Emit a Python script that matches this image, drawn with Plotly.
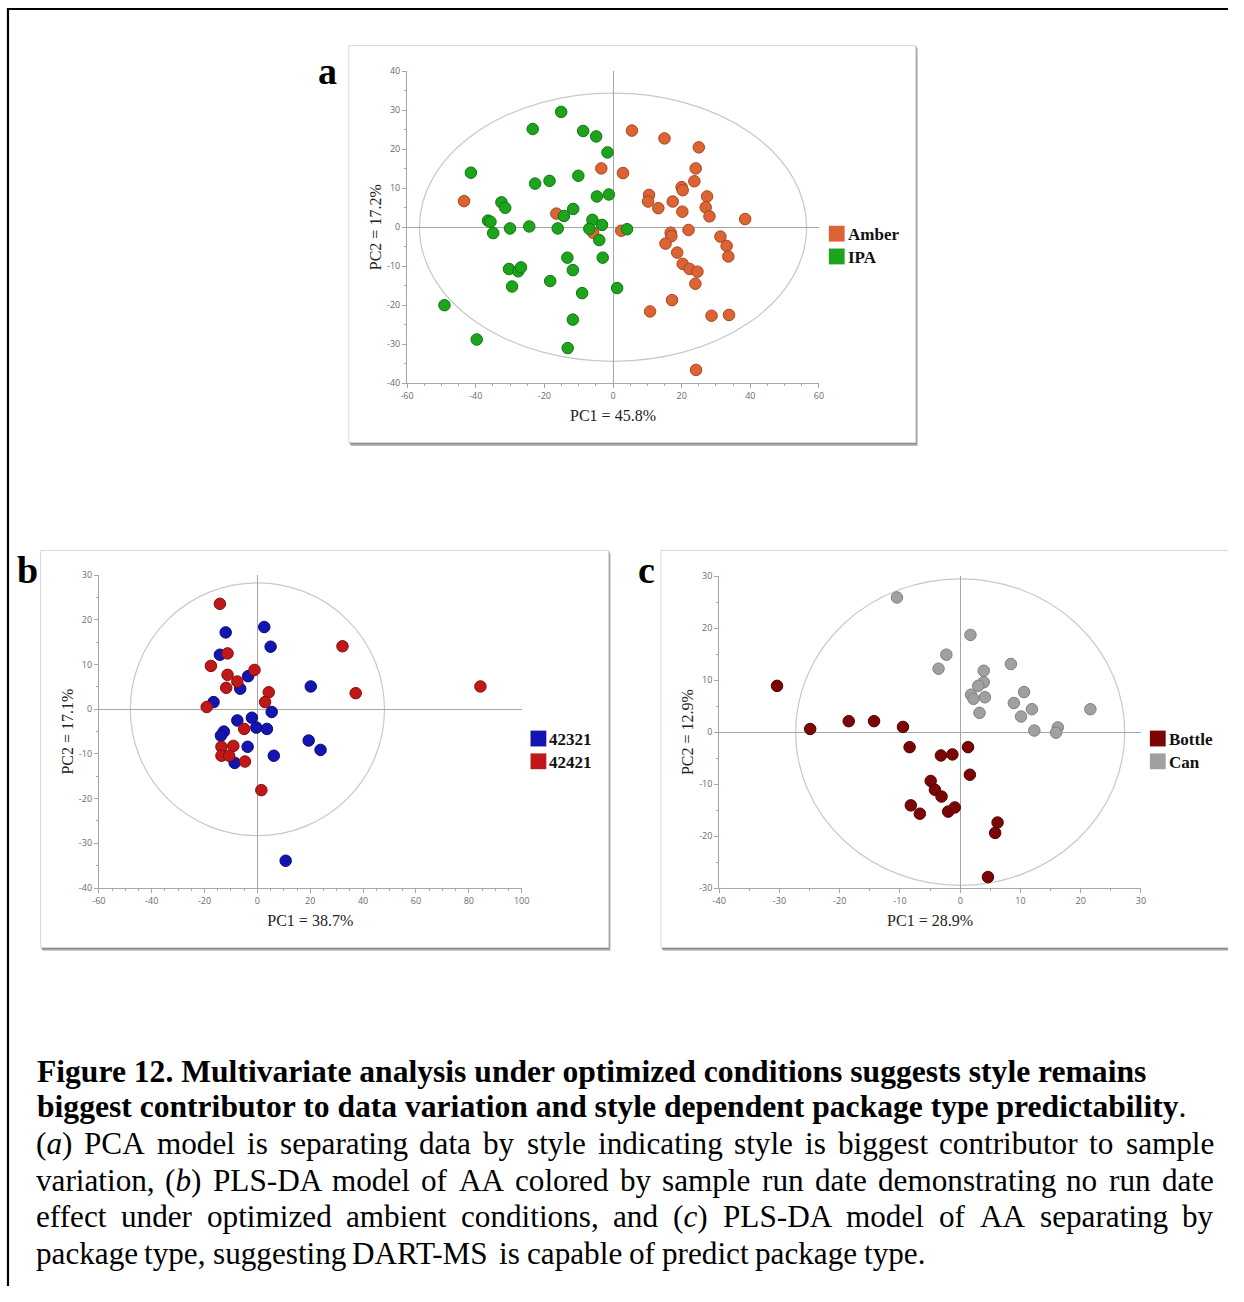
import plotly.graph_objects as go

# The page body keeps its default 8 px margin, so the figure is sized to fill the
# rest of the 1244 x 1302 window and page coordinates are shifted by that margin.
PAGE_W, PAGE_H = 1244, 1302
BODY_MARGIN = 8
W, H = PAGE_W - 2 * BODY_MARGIN, PAGE_H - 2 * BODY_MARGIN

# ---------------- data ----------------
# (a) PCA scores, PC1 = 45.8 %, PC2 = 17.2 %
a_groups = ["Amber", "IPA"]
amber_pc1 = [5.5, 15.0, 25.0, -3.4, 2.9, 24.1, 23.7, 20.0, 20.3, 10.5, 10.2, 13.2, 17.4,
             27.4, 27.0, 28.1, 20.2, -43.4, -16.5, -5.8, 2.4, 38.5, 22.0, 16.8, 17.0, 15.3,
             31.3, 33.1, 33.6, 18.7, 20.3, 22.3, 24.6, 24.0, 17.2, 10.8, 28.7, 33.8, 24.2]
amber_pc2 = [24.8, 22.8, 20.5, 15.1, 13.9, 15.1, 11.8, 10.3, 9.5, 8.3, 6.6, 4.9, 6.6,
             7.9, 5.1, 2.8, 4.0, 6.7, 3.5, -1.4, -0.9, 2.1, -0.7, -1.4, -2.3, -4.2,
             -2.4, -4.8, -7.5, -6.5, -9.4, -10.7, -11.4, -14.5, -18.7, -21.6, -22.7, -22.5, -36.6]
ipa_pc1 = [-15.1, -23.4, -8.7, -4.9, -1.6, -41.4, -10.1, -18.5, -22.7, -4.7, -1.2, -32.5,
           -31.4, -11.6, -14.3, -36.4, -35.7, -34.9, -30.0, -24.4, -16.1, -6.0, -6.9, -3.2,
           4.1, -4.0, -3.0, -13.3, -11.7, -30.3, -27.6, -26.8, -29.4, -18.3, 1.2, -9.0,
           -11.7, -49.1, -39.7, -13.2]
ipa_pc2 = [29.6, 25.2, 24.7, 23.3, 19.2, 14.0, 13.2, 11.9, 11.2, 7.9, 8.4, 6.4,
           5.0, 4.7, 2.9, 1.7, 1.4, -1.5, -0.3, 0.2, -0.3, 1.9, -0.4, 0.6,
           -0.5, -3.3, -7.8, -7.8, -11.0, -10.7, -11.3, -10.3, -15.2, -13.8, -15.6, -16.9,
           -23.7, -20.0, -28.8, -31.0]
a_ellipse = (56.4, 34.4)   # confidence ellipse semi-axes (PC1, PC2)

# (b) PLS-DA scores by run date, PC1 = 38.7 %, PC2 = 17.1 %
b_groups = ["42321", "42421"]
d42321_pc1 = [2.6, -12.0, 5.0, -14.2, -3.5, -6.5, 20.2, -16.6, 5.4, -7.6, -2.1, -0.4,
              3.6, -12.7, -13.8, -3.7, 19.4, 23.9, 6.2, -8.6, 10.7]
d42321_pc2 = [18.4, 17.2, 14.0, 12.2, 7.4, 4.6, 5.1, 1.6, -0.6, -2.5, -1.9, -4.1,
              -4.4, -5.0, -5.9, -8.4, -7.0, -9.1, -10.4, -12.0, -33.9]
d42421_pc1 = [-14.2, -11.3, -17.6, -1.1, -11.3, -7.6, -11.8, 4.3, 2.9, -19.2, 32.2, 37.2,
              84.4, -5.0, -13.6, -9.1, -13.6, -10.7, -4.7, 1.5]
d42421_pc2 = [23.6, 12.5, 9.7, 8.8, 7.7, 6.2, 4.8, 3.8, 1.6, 0.5, 14.1, 3.6,
              5.1, -4.4, -8.4, -8.2, -10.4, -10.4, -11.7, -18.1]
b_ellipse = (48.1, 28.3)

# (c) PLS-DA scores by package type, PC1 = 28.9 %, PC2 = 12.9 %
c_groups = ["Bottle", "Can"]
bottle_pc1 = [-30.4, -24.9, -18.5, -14.3, -9.5, -8.4, -3.2, -1.3, 1.3, 1.6, -4.9, -4.2,
              -3.1, -8.2, -6.7, -2.0, -0.9, 6.2, 5.8, 4.6]
bottle_pc2 = [8.9, 0.6, 2.1, 2.1, 1.0, -2.9, -4.5, -4.3, -2.9, -8.2, -9.4, -11.1,
              -12.4, -14.1, -15.7, -15.3, -14.5, -17.4, -19.4, -27.9]
can_pc1 = [-10.5, 1.7, -2.3, -3.6, 8.4, 3.9, 3.9, 3.0, 1.8, 2.2, 4.1, 10.6, 8.9, 11.9,
           10.1, 3.2, 21.6, 12.3, 16.2, 15.9]
can_pc2 = [25.9, 18.7, 14.9, 12.2, 13.1, 11.8, 9.6, 8.9, 7.2, 6.4, 6.7, 7.7, 5.6, 4.4,
           3.0, 3.7, 4.4, 0.3, 0.9, -0.1]
c_ellipse = (27.3, 29.5)

# axis ticks
a_xticks = [-60, -40, -20, 0, 20, 40, 60]
a_yticks = [-40, -30, -20, -10, 0, 10, 20, 30, 40]
b_xticks = [-60, -40, -20, 0, 20, 40, 60, 80, 100]
b_yticks = [-40, -30, -20, -10, 0, 10, 20, 30]
c_xticks = [-40, -30, -20, -10, 0, 10, 20, 30]
c_yticks = [-30, -20, -10, 0, 10, 20, 30]

axis_titles = {
    "a": ("PC1 = 45.8%", "PC2 = 17.2%"),
    "b": ("PC1 = 38.7%", "PC2 = 17.1%"),
    "c": ("PC1 = 28.9%", "PC2 = 12.9%"),
}

caption_bold = [
    "Figure 12. Multivariate analysis under optimized conditions suggests style remains",
    "biggest contributor to data variation and style dependent package type predictability",
]
caption_body = [
    "(_a_) PCA model is separating data by style indicating style is biggest contributor to sample",
    "variation, (_b_) PLS-DA model of AA colored by sample run date demonstrating no run date",
    "effect under optimized ambient conditions, and (_c_) PLS-DA model of AA separating by",
    "package type, suggesting DART-MS is capable of predict package type.",
]

# ---------------- styling ----------------
COLORS = {
    "Amber": ("#dc6434", "#a8451c"),
    "IPA": ("#1ca41c", "#0f760f"),
    "42321": ("#1414b0", "#0a0a78"),
    "42421": ("#c01818", "#860c0c"),
    "Bottle": ("#7c0606", "#520202"),
    "Can": ("#a0a0a0", "#808080"),
}
SERIF = "Liberation Serif, Times New Roman, serif"
SANS = "Open Sans, DejaVu Sans, sans-serif"


def px(x):
    """page pixel x -> paper fraction"""
    return (x - BODY_MARGIN) / W


def py(y):
    """page pixel y (from top) -> paper fraction"""
    return 1 - (y - BODY_MARGIN) / H


fig = go.Figure()

panels = [
    # key, axis suffix, pixel box of plot area (l, r, t, b), ranges, ticks, series
    ("a", "", (413, 830, 73, 388), (-60, 60), (-40, 40), a_xticks, a_yticks,
     [("Amber", amber_pc1, amber_pc2), ("IPA", ipa_pc1, ipa_pc2)], a_ellipse),
    ("b", "2", (101, 529, 582, 898), (-60, 100), (-40, 30), b_xticks, b_yticks,
     [("42321", d42321_pc1, d42321_pc2), ("42421", d42421_pc1, d42421_pc2)], b_ellipse),
    ("c", "3", (729, 1156, 583, 898), (-40, 30), (-30, 30), c_xticks, c_yticks,
     [("Bottle", bottle_pc1, bottle_pc2), ("Can", can_pc1, can_pc2)], c_ellipse),
]

shapes = []
annotations = []

# outer figure border (top and left edges visible)
shapes.append(dict(type="line", xref="paper", yref="paper", x0=px(9), x1=px(1260),
                   y0=py(10), y1=py(10), line=dict(color="black", width=2.2)))
shapes.append(dict(type="line", xref="paper", yref="paper", x0=px(9), x1=px(9),
                   y0=py(9), y1=py(1320), line=dict(color="black", width=2.2)))

# panel frames with drop shadow
frames = [(354, 928, 47, 448), (42, 617, 557, 958), (670, 1262, 557, 958)]
for (l, r, t, b) in frames:
    shapes.append(dict(type="rect", xref="paper", yref="paper", layer="below",
                       x0=px(l + 2), x1=px(r + 2), y0=py(t + 3), y1=py(b + 3.5),
                       line=dict(width=0), fillcolor="#bcbcbc"))
    shapes.append(dict(type="rect", xref="paper", yref="paper", layer="below",
                       x0=px(l + 1), x1=px(r + 1), y0=py(t + 1), y1=py(b + 2),
                       line=dict(width=0), fillcolor="#8c8c8c"))
    shapes.append(dict(type="rect", xref="paper", yref="paper", layer="below",
                       x0=px(l), x1=px(r), y0=py(t), y1=py(b),
                       line=dict(color="#d8d8d8", width=1), fillcolor="white"))

layout_axes = {}
for (key, sfx, (l, r, t, b), xr, yr, xt, yt, series, ell) in panels:
    xa = "x" + sfx
    ya = "y" + sfx
    for name, xs, ys in series:
        fill, edge = COLORS[name]
        fig.add_trace(go.Scatter(
            x=xs, y=ys, mode="markers", name=name, showlegend=False,
            xaxis=xa, yaxis=ya,
            marker=dict(size=11.5, color=fill, line=dict(color=edge, width=1)),
        ))
    # white confidence ellipse
    shapes.append(dict(type="circle", xref=xa, yref=ya, layer="below",
                       x0=-ell[0], x1=ell[0], y0=-ell[1], y1=ell[1],
                       fillcolor="white", line=dict(color="#c8c8c8", width=1.2)))
    xtitle, ytitle = axis_titles[key]
    common = dict(showgrid=False, zeroline=True, zerolinecolor="#a6a6a6", zerolinewidth=1,
                  showline=True, linecolor="#a6a6a6", linewidth=1, ticks="outside",
                  ticklen=4, tickcolor="#a6a6a6",
                  tickfont=dict(family=SANS, size=9, color="#6a6a6a"))
    layout_axes["xaxis" + sfx] = dict(
        common, domain=[px(l), px(r)], range=list(xr), anchor=ya,
        tickvals=xt, ticktext=[str(v) for v in xt],
        minor=dict(dtick=5, ticklen=2, tickcolor="#a6a6a6", ticks="outside"),
        title=dict(text=xtitle, font=dict(family=SERIF, size=16, color="#222"), standoff=8),
    )
    layout_axes["yaxis" + sfx] = dict(
        common, domain=[py(b), py(t)], range=list(yr), anchor=xa,
        tickvals=yt, ticktext=[str(v) for v in yt],
        minor=dict(dtick=5, ticklen=2, tickcolor="#a6a6a6", ticks="outside"),
        title=dict(text=ytitle, font=dict(family=SERIF, size=16, color="#222"), standoff=1),
    )

# legends drawn as coloured squares with bold labels
legend_spots = [(a_groups, 840, 229), (b_groups, 538, 739), (c_groups, 1165, 739)]
for groups, lx, ly in legend_spots:
    for i, name in enumerate(groups):
        top = ly + i * 23
        shapes.append(dict(type="rect", xref="paper", yref="paper",
                           x0=px(lx), x1=px(lx + 16), y0=py(top), y1=py(top + 16),
                           fillcolor=COLORS[name][0], line=dict(width=0)))
        annotations.append(dict(xref="paper", yref="paper", x=px(lx + 17), y=py(top + 9),
                                xanchor="left", yanchor="middle", showarrow=False,
                                text="<b>" + name + "</b>",
                                font=dict(family=SERIF, size=17, color="#111")))

# panel letters
for letter, lx, ly in [("a", 332, 73), ("b", 29, 577), ("c", 655, 577)]:
    annotations.append(dict(xref="paper", yref="paper", x=px(lx), y=py(ly),
                            xanchor="center", yanchor="middle", showarrow=False,
                            text="<b>" + letter + "</b>",
                            font=dict(family=SERIF, size=38, color="black")))

# ---------------- caption ----------------
# Times / Liberation Serif advance widths (1/1000 em) for justification
REG = {c: w for c, w in zip("abcdefghijklmnopqrstuvwxyz",
                            [444, 500, 444, 500, 444, 333, 500, 500, 278, 278, 500, 278, 778,
                             500, 500, 500, 500, 333, 389, 278, 500, 500, 722, 500, 500, 444])}
REG.update({c: w for c, w in zip("ABCDEFGHIJKLMNOPQRSTUVWXYZ",
                                 [722, 667, 667, 722, 611, 556, 722, 722, 333, 389, 722, 611, 889,
                                  722, 722, 556, 722, 667, 556, 611, 722, 722, 944, 722, 722, 611])})
REG.update({"(": 333, ")": 333, ",": 250, ".": 250, "-": 333, " ": 250})
ITAL = {"a": 500, "b": 500, "c": 444}

BODY_SIZE = 31.2
LEFT, RIGHT = 36, 1228
line_y = [1083, 1119, 1156, 1193, 1230, 1267]


def word_width(w):
    total = 0
    i = 0
    while i < len(w):
        if w[i] == "_":
            total += ITAL[w[i + 1]]
            i += 3
        else:
            total += REG[w[i]]
            i += 1
    return total / 1000 * BODY_SIZE


def to_html(w):
    parts = w.split("_")
    out = ""
    for k, p in enumerate(parts):
        out += ("<i>" + p + "</i>") if k % 2 else p
    return out


annotations.append(dict(xref="paper", yref="paper", x=px(LEFT), y=py(line_y[0]),
                        xanchor="left", yanchor="middle", showarrow=False,
                        text="<b>" + caption_bold[0] + "</b>",
                        font=dict(family=SERIF, size=31.6, color="black")))
annotations.append(dict(xref="paper", yref="paper", x=px(LEFT), y=py(line_y[1]),
                        xanchor="left", yanchor="middle", showarrow=False,
                        text="<b>" + caption_bold[1] + "</b>.",
                        font=dict(family=SERIF, size=31.6, color="black")))

for li, line in enumerate(caption_body):
    yy = py(line_y[2 + li])
    words = line.split(" ")
    justify = li < len(caption_body) - 1
    widths = [word_width(w) for w in words]
    gap = (RIGHT - LEFT - sum(widths)) / (len(words) - 1) if justify else 0.25 * BODY_SIZE
    x = LEFT
    for w, ww in zip(words, widths):
        annotations.append(dict(xref="paper", yref="paper", x=px(x), y=yy,
                                xanchor="left", yanchor="middle", showarrow=False,
                                text=to_html(w), borderpad=0,
                                font=dict(family=SERIF, size=BODY_SIZE, color="black")))
        x += ww + gap

fig.update_layout(
    width=W, height=H, margin=dict(l=0, r=0, t=0, b=0),
    paper_bgcolor="white", plot_bgcolor="#f4f4f4",
    showlegend=False, shapes=shapes, annotations=annotations,
    **layout_axes,
)

fig.write_html("out.html")
